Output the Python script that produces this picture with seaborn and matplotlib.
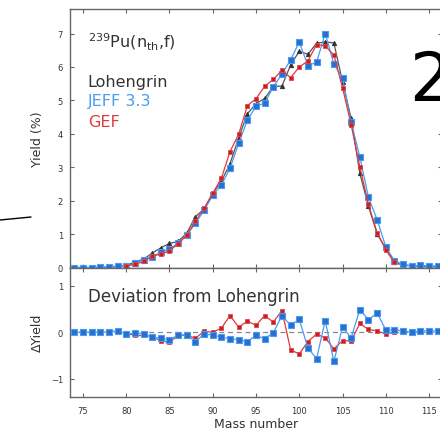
import numpy as np
import pandas as pd
import matplotlib
matplotlib.use("Agg")
import matplotlib.pyplot as plt
from matplotlib.lines import Line2D
import seaborn as sns

# Mass numbers of the fission fragments
mass = list(range(74, 117))

# Lohengrin measured yields (%), A = 74 ... 116
lohengrin = [0.00, 0.00, 0.00, 0.01, 0.01, 0.02, 0.07, 0.16, 0.25, 0.43,
             0.59, 0.72, 0.78, 1.03, 1.52, 1.75, 2.22, 2.58, 3.11, 3.88,
             4.60, 4.90, 5.06, 5.41, 5.43, 6.06, 6.47, 6.38, 6.71, 6.75,
             6.72, 5.56, 4.46, 2.82, 1.83, 1.01, 0.57, 0.15, 0.07, 0.05,
             0.03, 0.02, 0.02]

# JEFF 3.3 minus Lohengrin, A = 74 ... 116
dev_jeff = [0.00, 0.00, 0.00, 0.00, 0.01, 0.03, -0.04, -0.02, -0.03, -0.11,
            -0.13, -0.16, -0.06, -0.06, -0.20, -0.04, -0.06, -0.11, -0.14, -0.16,
            -0.20, -0.07, -0.14, -0.01, 0.36, 0.15, 0.28, -0.34, -0.57, 0.25,
            -0.63, 0.11, -0.12, 0.49, 0.27, 0.42, 0.05, 0.05, 0.03, 0.00,
            0.03, 0.03, 0.03]

# GEF minus Lohengrin, A = 80 ... 111
gef_mass = list(range(80, 112))
dev_gef = [-0.02, -0.07, -0.07, -0.09, -0.19, -0.22, -0.07, -0.06, -0.13, 0.02,
           0.00, 0.09, 0.36, 0.11, 0.24, 0.15, 0.36, 0.22, 0.47, -0.38,
           -0.47, -0.20, -0.04, -0.12, -0.36, -0.18, -0.19, 0.19, 0.06, 0.03,
           -0.04, 0.00]

x_ticks = [75, 80, 85, 90, 95, 100, 105, 110, 115]
y_ticks_top = [0, 1, 2, 3, 4, 5, 6, 7]
y_ticks_dev = [-1, 0, 1]

loh = pd.Series(lohengrin, index=mass)
jeff_yield = loh.values + np.array(dev_jeff)
gef_yield = loh.loc[gef_mass].values + np.array(dev_gef)

df_loh = pd.DataFrame({"A": mass, "Y": lohengrin})
df_jeff = pd.DataFrame({"A": mass, "Y": jeff_yield, "D": dev_jeff})
df_gef = pd.DataFrame({"A": gef_mass, "Y": gef_yield, "D": dev_gef})

sns.set_style("ticks")
plt.rcParams["font.family"] = ["DejaVu Sans"]

TXT = "#333333"
AX = "#666666"
BLUE_L, BLUE_M, BLUE_E = "#4a9cf0", "#2a6fd0", "#4a9cf0"
RED_L, RED_M, RED_E = "#e03a3a", "#c81e28", "#e04848"
GRAY_L, GRAY_M = "#555555", "#333333"

fig = plt.figure(figsize=(4.4, 4.35), dpi=100)
W, H = 440.0, 435.0
ax1 = fig.add_axes([70 / W, 1 - 268.5 / H, 372 / W, 259 / H])
ax2 = fig.add_axes([70 / W, 1 - 398 / H, 372 / W, 129.5 / H])

# Upper panel: absolute yields
sns.lineplot(data=df_loh, x="A", y="Y", ax=ax1, color=GRAY_L, lw=0.9,
             marker="^", markersize=3, markerfacecolor=GRAY_M,
             markeredgecolor=GRAY_M, clip_on=False, zorder=3)
sns.lineplot(data=df_jeff, x="A", y="Y", ax=ax1, color=BLUE_L, lw=0.9,
             marker="s", markersize=4, markerfacecolor=BLUE_M,
             markeredgecolor=BLUE_E, markeredgewidth=0.8, clip_on=False, zorder=4)
sns.lineplot(data=df_gef, x="A", y="Y", ax=ax1, color=RED_L, lw=0.9,
             marker="s", markersize=3.5, markerfacecolor=RED_M,
             markeredgecolor=RED_E, markeredgewidth=0.6, clip_on=False, zorder=5)

# Lower panel: deviations from Lohengrin
ax2.axhline(0, color="#888888", lw=0.9, ls=(0, (4, 3)), zorder=1)
sns.lineplot(data=df_gef, x="A", y="D", ax=ax2, color=RED_L, lw=0.9,
             marker="s", markersize=3.5, markerfacecolor=RED_M,
             markeredgecolor=RED_E, markeredgewidth=0.6, zorder=3)
sns.lineplot(data=df_jeff, x="A", y="D", ax=ax2, color=BLUE_L, lw=0.9,
             marker="s", markersize=4, markerfacecolor=BLUE_M,
             markeredgecolor=BLUE_E, markeredgewidth=0.8, zorder=4)

for ax in (ax1, ax2):
    ax.set_xlim(73.5, 116.5)
    ax.set_xticks(x_ticks)
    for s in ax.spines.values():
        s.set_color(AX)
        s.set_linewidth(1.0)
    ax.tick_params(direction="in", length=3, width=0.8, color=AX,
                   labelcolor=TXT, labelsize=6, top=True, right=True)
    ax.tick_params(axis="x", pad=6.5)
    ax.tick_params(axis="y", pad=5)

ax1.set_ylim(0, 7.75)
ax1.set_yticks(y_ticks_top)
ax1.tick_params(axis="x", labelbottom=False)
ax1.set_xlabel("")
ax1.set_ylabel("Yield (%)", fontsize=9, color=TXT)
ax1.yaxis.set_label_coords(-0.07, 0.5)

ax2.set_ylim(-1.4, 1.4)
ax2.set_yticks(y_ticks_dev)
ax2.set_xticklabels([str(t) for t in x_ticks])
ax2.set_xlabel("Mass number", fontsize=9, color=TXT)
ax2.xaxis.set_label_coords(0.5, -0.155)
ax2.set_ylabel("ΔYield", fontsize=9, color=TXT)
ax2.yaxis.set_label_coords(-0.07, 0.5)

# Annotations inside the panels
ax1.text(0.048, 0.871, r"$^{239}$Pu(n$_{\rm th}$,f)", transform=ax1.transAxes,
         fontsize=11.5, color=TXT, va="center", ha="left")
ax1.text(0.048, 0.72, "Lohengrin", transform=ax1.transAxes,
         fontsize=11.5, color=TXT, va="center", ha="left")
ax1.text(0.048, 0.643, "JEFF 3.3", transform=ax1.transAxes,
         fontsize=11.5, color=BLUE_L, va="center", ha="left")
ax1.text(0.048, 0.562, "GEF", transform=ax1.transAxes,
         fontsize=11.5, color=RED_L, va="center", ha="left")
ax2.text(0.048, 0.78, "Deviation from Lohengrin", transform=ax2.transAxes,
         fontsize=12, color=TXT, va="center", ha="left")

# Neighbouring page elements
fig.text(409 / W, 1 - 82 / H, "2", fontsize=48, color="black",
         va="center", ha="left")
fig.add_artist(Line2D([0, 31 / W], [1 - 221 / H, 1 - 218 / H],
                      color="black", lw=1.0))

fig.savefig("out.png", dpi=100)
